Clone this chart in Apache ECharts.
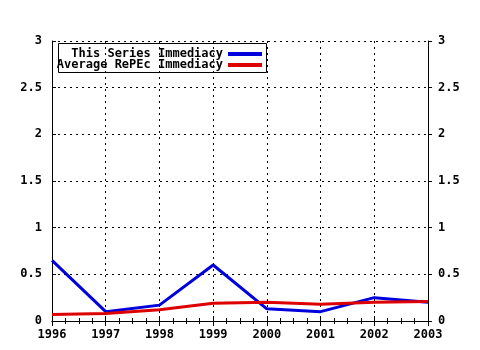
<!DOCTYPE html>
<html><head><meta charset="utf-8">
<script src="https://cdn.jsdelivr.net/npm/echarts@6/dist/echarts.min.js"></script>
<style>html,body{margin:0;padding:0;background:#fff}#c{width:480px;height:350px}</style>
</head><body><div id="c"></div>
<script>
const years = [1996, 1997, 1998, 1999, 2000, 2001, 2002, 2003];
const seriesValues = [0.65, 0.10, 0.17, 0.60, 0.13, 0.10, 0.25, 0.20];
const averageValues = [0.07, 0.08, 0.12, 0.19, 0.20, 0.18, 0.20, 0.21];
const yTicks = [0, 0.5, 1, 1.5, 2, 2.5, 3];
const seriesNames = ['This Series Immediacy', 'Average RePEc Immediacy'];

const font = {fontFamily: 'DejaVu Sans Mono', fontWeight: 'bold', fontSize: 12, color: '#000'};
const fmtY = v => String(v).replace('.', ',').replace(',', '.');
const chart = echarts.init(document.getElementById('c'));
const pair = arr => years.map((y, i) => [y, arr[i]]);
const dotted = {show: true, lineStyle: {color: '#000', type: [2, 4], width: 1}};
chart.setOption({
  animation: false,
  grid: {left: 52, right: 52, top: 41, bottom: 29},
  legend: [
    {data: [seriesNames[0]], right: 218, top: 48, orient: 'horizontal', align: 'right', padding: 0,
     itemWidth: 34, itemHeight: 4, icon: 'rect', itemGap: 0, textStyle: font},
    {data: [seriesNames[1]], right: 218, top: 59, orient: 'horizontal', align: 'right', padding: 0,
     itemWidth: 34, itemHeight: 4, icon: 'rect', itemGap: 0, textStyle: font}
  ],
  graphic: [{type: 'rect', shape: {x: 58.5, y: 43.5, width: 208, height: 29},
    style: {fill: 'none', stroke: '#000', lineWidth: 1}, z: 100}],
  xAxis: [
    {type: 'value', min: years[0], max: years[years.length - 1], interval: 1, position: 'bottom',
     axisLine: {lineStyle: {color: '#000'}}, axisTick: {show: true, length: 5, lineStyle: {color: '#000'}},
     minorTick: {show: true, splitNumber: 4, length: 3, lineStyle: {color: '#000'}},
     axisLabel: Object.assign({formatter: v => String(v), margin: 8}, font),
     splitLine: dotted},
    {type: 'value', min: years[0], max: years[years.length - 1], interval: 1, position: 'top',
     axisLine: {lineStyle: {color: '#000'}}, axisTick: {show: true, length: 5, lineStyle: {color: '#000'}},
     minorTick: {show: true, splitNumber: 4, length: 3, lineStyle: {color: '#000'}},
     axisLabel: {show: false}, splitLine: {show: false}}
  ],
  yAxis: [
    {type: 'value', min: yTicks[0], max: yTicks[yTicks.length - 1], interval: 0.5, position: 'left',
     axisLine: {show: true, lineStyle: {color: '#000'}},
     axisTick: {show: true, inside: true, length: 4, lineStyle: {color: '#000'}},
     axisLabel: Object.assign({formatter: fmtY, margin: 10}, font), splitLine: dotted},
    {type: 'value', min: yTicks[0], max: yTicks[yTicks.length - 1], interval: 0.5, position: 'right',
     axisLine: {show: true, lineStyle: {color: '#000'}},
     axisTick: {show: true, length: 4, lineStyle: {color: '#000'}},
     axisLabel: Object.assign({formatter: fmtY, margin: 10}, font), splitLine: {show: false}}
  ],
  series: [
    {name: seriesNames[0], type: 'line', data: pair(seriesValues), symbol: 'none',
     lineStyle: {width: 3, color: '#0000dd'}, itemStyle: {color: '#0000dd'}, z: 3},
    {name: seriesNames[1], type: 'line', data: pair(averageValues), symbol: 'none',
     lineStyle: {width: 3, color: '#dd0000'}, itemStyle: {color: '#dd0000'}, z: 4}
  ]
});
</script></body></html>
